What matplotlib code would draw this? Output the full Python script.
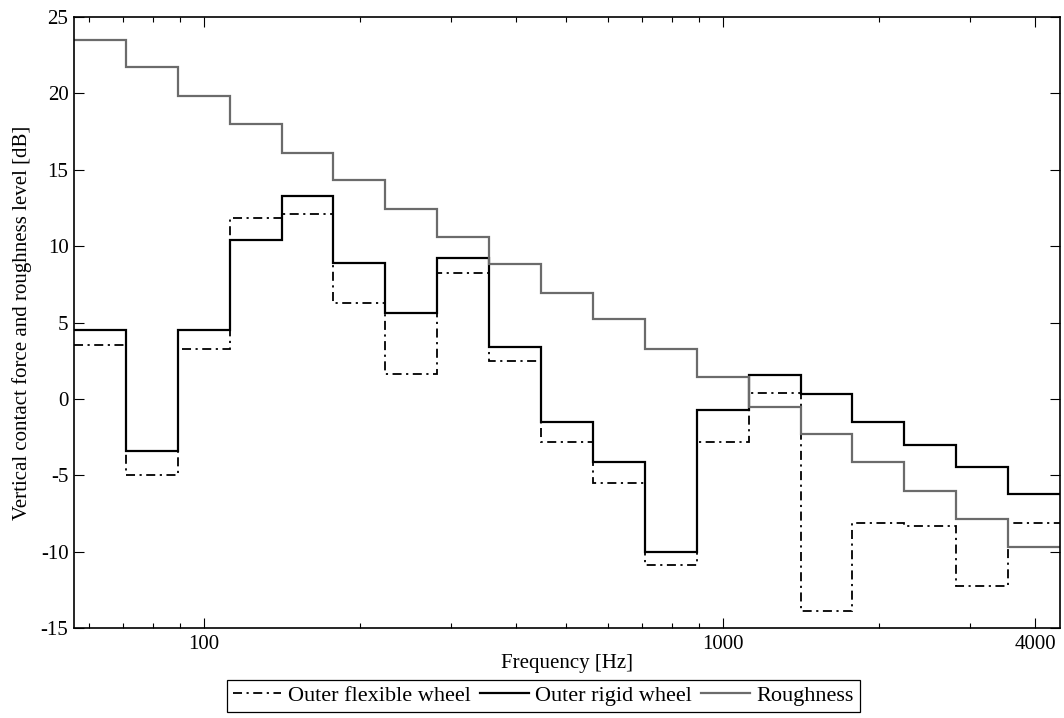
import numpy as np
import matplotlib
matplotlib.use("Agg")
import matplotlib.pyplot as plt
from matplotlib.ticker import FixedLocator, NullFormatter, FixedFormatter

# third-octave bands 63 Hz .. 4000 Hz (band index n, fc = 1000*10^(n/10))
band_index = np.arange(-12, 7)
# levels in dB
flexible = [3.5, -5.0, 3.25, 11.85, 12.1, 6.25, 1.65, 8.25, 2.45, -2.85, -5.5,
            -10.85, -2.85, 0.4, -13.9, -8.1, -8.35, -12.25, -8.1]
rigid = [4.5, -3.4, 4.5, 10.4, 13.25, 8.9, 5.65, 9.2, 3.4, -1.5, -4.1,
         -10.0, -0.75, 1.55, 0.3, -1.5, -3.05, -4.45, -6.2]
roughness = [23.5, 21.7, 19.8, 18.0, 16.1, 14.3, 12.4, 10.6, 8.8, 6.9, 5.2,
             3.25, 1.4, -0.5, -2.3, -4.1, -6.0, -7.85, -9.7]

major_ticks = [100, 1000, 4000]
minor_ticks = [60, 70, 80, 90, 200, 300, 400, 500, 600, 700, 800, 900, 2000, 3000]

edges = 1000 * 10 ** ((np.append(band_index, band_index[-1] + 1) - 0.5) / 10)

plt.rcParams['font.family'] = ['Liberation Serif', 'DejaVu Serif']
plt.rcParams['font.size'] = 15
plt.rcParams['axes.unicode_minus'] = False

fig = plt.figure(figsize=(10.64, 7.18), dpi=100)
ax = fig.add_axes([74 / 1064, 1 - 628 / 718, (1060 - 74) / 1064, (628 - 17) / 718])

ax.stairs(flexible, edges, color='black', lw=1.3, linestyle=(0, (5, 2.5, 1.2, 2.5)),
          label='Outer flexible wheel', baseline=None)
ax.stairs(rigid, edges, color='black', lw=1.6, label='Outer rigid wheel', baseline=None)
ax.stairs(roughness, edges, color='0.42', lw=1.6, label='Roughness', baseline=None)

ax.set_xscale('log')
ax.set_xlim(edges[0], edges[-1])
ax.set_ylim(-15, 25)
ax.set_yticks(np.arange(-15, 26, 5))
ax.xaxis.set_major_locator(FixedLocator(major_ticks))
ax.xaxis.set_major_formatter(FixedFormatter([str(t) for t in major_ticks]))
ax.xaxis.set_minor_locator(FixedLocator(minor_ticks))
ax.xaxis.set_minor_formatter(NullFormatter())
ax.tick_params(which='both', direction='in', top=True, right=True, width=0.8)
ax.tick_params(which='major', length=7)
ax.tick_params(which='minor', length=3.5)
ax.tick_params(axis='x', pad=5)
ax.tick_params(axis='y', pad=4)
for s in ax.spines.values():
    s.set_linewidth(1.2)

ax.set_xlabel('Frequency [Hz]', labelpad=0)
ax.set_ylabel('Vertical contact force and roughness level [dB]', labelpad=6)

leg = ax.legend(loc='upper center', bbox_to_anchor=(0.476, -0.085), ncol=3,
                fontsize=16, fancybox=False, edgecolor='black', framealpha=1,
                handlelength=2.2, handletextpad=0.3, columnspacing=0.4,
                borderpad=0.25, borderaxespad=0)
leg.get_frame().set_linewidth(0.9)

fig.savefig('out.png', dpi=100)
